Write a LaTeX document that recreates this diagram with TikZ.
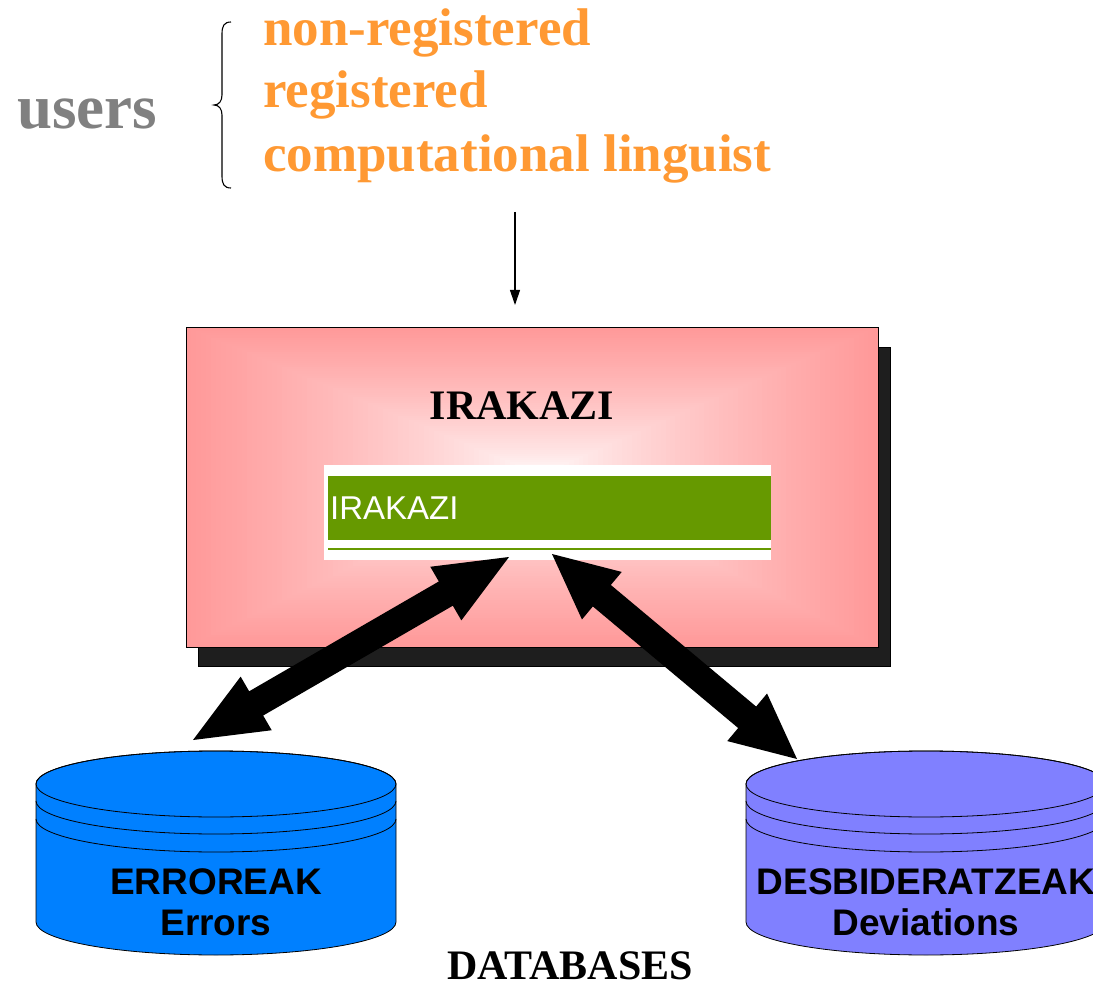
\documentclass[tikz,border=0pt]{standalone}
\usepackage{fontspec}
\setmainfont{Liberation Serif}
\newfontfamily\arialfont{Liberation Sans}
\usetikzlibrary{calc,arrows.meta}

\definecolor{userorange}{RGB}{255,153,51}
\definecolor{usergray}{RGB}{128,128,128}
\definecolor{boxpink}{RGB}{255,153,153}
\definecolor{bargreen}{RGB}{102,153,0}
\definecolor{dbblue}{RGB}{0,128,255}
\definecolor{dbviolet}{RGB}{128,128,255}
\definecolor{shadowgray}{RGB}{30,30,30}

% thick double-headed arrow between two named points
% #1, #2: end coordinates, #3: head length
\newcommand\bigdoublearrow[3]{%
  \coordinate (#1-h) at ($(#1)!#3!(#2)$);
  \coordinate (#2-h) at ($(#2)!#3!(#1)$);
  \fill[black] (#1)
    -- ($(#1-h)!31pt!90:(#2)$) -- ($(#1-h)!14pt!90:(#2)$)
    -- ($(#2-h)!14pt!-90:(#1)$) -- ($(#2-h)!31pt!-90:(#1)$)
    -- (#2)
    -- ($(#2-h)!31pt!90:(#1)$) -- ($(#2-h)!14pt!90:(#1)$)
    -- ($(#1-h)!14pt!-90:(#2)$) -- ($(#1-h)!31pt!-90:(#2)$)
    -- cycle;
}

% database cylinder: #1 centre x, #2 fill colour
\newcommand\database[2]{%
  \filldraw[fill=#2, draw=black, line width=0.8pt]
    (#1-180,784) -- (#1-180,922)
    arc[start angle=180, end angle=360, x radius=180pt, y radius=33pt]
    -- (#1+180,784)
    arc[start angle=0, end angle=180, x radius=180pt, y radius=33pt] -- cycle;
  \draw[line width=0.8pt] (#1,784) ellipse [x radius=180pt, y radius=33pt];
  \draw[line width=0.8pt] (#1-180,801)
    arc[start angle=180, end angle=360, x radius=180pt, y radius=33pt];
  \draw[line width=0.8pt] (#1-180,819)
    arc[start angle=180, end angle=360, x radius=180pt, y radius=33pt];
}

\begin{document}
\begin{tikzpicture}[x=1pt, y=-1pt,
  usertype/.style={anchor=base west, inner sep=0pt,
    font=\fontsize{53}{60}\selectfont\bfseries, text=userorange},
  dblabel/.style={anchor=base, inner sep=0pt,
    font=\arialfont\bfseries\fontsize{37}{40}\selectfont},
  serifhead/.style={anchor=base, inner sep=0pt,
    font=\fontsize{42}{46}\selectfont\bfseries},
]
\useasboundingbox (0,0) rectangle (1093,984);

% user groups
\node[anchor=base west, inner sep=0pt, text=usergray,
  font=\fontsize{63}{68}\selectfont\bfseries] (users) at (17,129) {users};
\draw[line width=1.1pt]
  (231,22) .. controls (224,22) and (222,26) .. (222,34) -- (222,95)
  .. controls (222,101) and (219,105) .. (214,105)
  .. controls (219,105) and (222,109) .. (222,115) -- (222,176)
  .. controls (222,184) and (224,188) .. (231,188);
\node[usertype] (nonreg) at (263,46) {non-registered};
\node[usertype] (reg) at (263,108) {registered};
\node[usertype] (complin) at (263,172) {computational linguist};

% flow into the system
\coordinate (userflow) at (515,212);
\coordinate (systemin) at (515,305);
\draw[line width=1.1pt, -{Triangle[length=15pt, width=10pt]}] (userflow) -- (systemin);

% system box: shadow, rectangular gradient, outline
\filldraw[fill=shadowgray, draw=black, line width=0.8pt] (198,347) rectangle (890,666);
\foreach \i in {0,...,69} {
  \pgfmathsetmacro\t{1-\i/70}
  \pgfmathsetmacro\p{100*(\t^0.75)}
  \fill[boxpink!\p!white] ({540-354*\t},{475-148*\t}) rectangle ({540+338*\t},{475+172*\t});
}
\node[draw=black, line width=0.8pt, inner sep=0pt,
  minimum width=692pt, minimum height=320pt] (system) at (532,487) {};
\node[serifhead] (systemtitle) at (522,420) {IRAKAZI};

% application window
\node[fill=white, inner sep=0pt, minimum width=447pt, minimum height=95pt] (panel) at (547.5,512.5) {};
\node[fill=bargreen, inner sep=0pt, minimum width=443pt, minimum height=64pt] (titlebar) at (549.5,508) {};
\node[anchor=base west, inner sep=0pt, text=white,
  font=\arialfont\fontsize{33}{36}\selectfont] (barlabel) at (330,519) {IRAKAZI};
\draw[bargreen, line width=2pt] (328,549) -- (771,549);

% databases
\database{216}{dbblue}
\database{926}{dbviolet}
\node[dblabel] (errname) at (216,894) {ERROREAK};
\node[dblabel] (errlabel) at (216,935) {Errors};
\node[dblabel] (devname) at (926,894) {DESBIDERATZEAK};
\node[dblabel] (devlabel) at (926,935) {Deviations};
\node[serifhead, text depth=0pt] (databases) at (570,979) {DATABASES};

% exchanges between the system and the databases
\coordinate (errtip) at (193,740);
\coordinate (panelL) at (509,557);
\coordinate (panelR) at (552,554);
\coordinate (devtip) at (797,759);
\bigdoublearrow{errtip}{panelL}{73pt}
\bigdoublearrow{panelR}{devtip}{65pt}
\end{tikzpicture}
\end{document}
